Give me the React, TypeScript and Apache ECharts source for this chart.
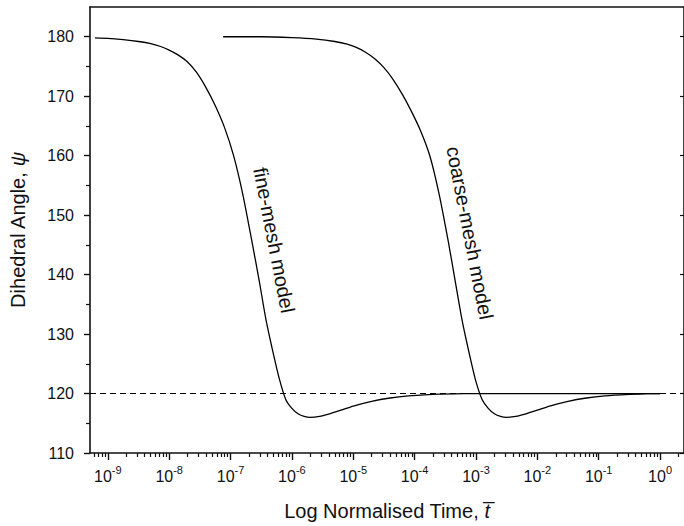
import React, { useEffect, useRef } from "react";
import * as echarts from "echarts";

// log10 of normalised time and dihedral angle (degrees)
const fineLogT = [-9.21, -9.0, -8.75, -8.5, -8.3, -8.15, -8.0, -7.85, -7.7, -7.55, -7.4, -7.25, -7.1, -6.95, -6.8, -6.65, -6.535, -6.42, -6.3, -6.2, -6.1, -6.0, -5.9, -5.8, -5.7, -5.55, -5.4, -5.2, -5.0, -4.7, -4.4, -4.1, -3.7, -3.2, -2.5, -1.5, 0];
const fineAngle = [179.8, 179.72, 179.5, 179.2, 178.85, 178.4, 177.75, 176.9, 175.75, 173.95, 171.45, 168.45, 164.8, 160.0, 153.5, 145.5, 139.1, 132.3, 126.6, 122.3, 119.0, 117.5, 116.6, 116.15, 116.0, 116.15, 116.55, 117.2, 117.9, 118.7, 119.25, 119.6, 119.85, 119.97, 120, 120, 120];

const coarseLogT = [-7.12, -6.5, -6.0, -5.6, -5.3, -5.1, -4.95, -4.8, -4.65, -4.5, -4.35, -4.2, -4.05, -3.9, -3.75, -3.6, -3.45, -3.34, -3.22, -3.1, -3.0, -2.9, -2.8, -2.7, -2.6, -2.5, -2.35, -2.2, -2.0, -1.8, -1.5, -1.2, -0.9, -0.5, -0.2, 0];
const coarseAngle = [180.0, 180.0, 179.85, 179.6, 179.2, 178.75, 178.2, 177.4, 176.3, 174.8, 172.8, 170.3, 167.4, 164.1, 159.9, 153.5, 145.5, 139.0, 132.0, 126.3, 122.0, 119.0, 117.5, 116.6, 116.15, 116.0, 116.15, 116.55, 117.2, 117.9, 118.7, 119.25, 119.6, 119.85, 119.97, 120];

const equilibriumAngle = 120;
const decadeExponents = [-9, -8, -7, -6, -5, -4, -3, -2, -1, 0];
const minorMantissas = [2, 3, 4, 5, 6, 7, 8, 9];
const yLabelTicks = [110, 120, 130, 140, 150, 160, 170, 180];
const yMinorTicks = [115, 125, 135, 145, 155, 165, 175];

const xMinLog = -9.29;
const xMaxLog = 0.39;
const yMin = 110;
const yMax = 185;

const FONT = "Liberation Sans, Arial, sans-serif";

export default function App() {
  const ref = useRef<HTMLDivElement>(null);
  useEffect(() => {
    if (!ref.current) return;
    const chart = echarts.init(ref.current, undefined, { renderer: "svg" });

    const xMinorTicks: number[] = [];
    for (let n = -10; n <= 0; n++) {
      for (const m of minorMantissas) {
        const v = Math.log10(m) + n;
        if (v > xMinLog && v < xMaxLog) xMinorTicks.push(v);
      }
    }

    const axisLine = { show: true, onZero: false, lineStyle: { color: "#111", width: 1.6 } };
    const noLine = { show: false, onZero: false };
    const grid = { left: 90, top: 7, width: 597, height: 446 };
    const tickColor = "#111";

    chart.setOption({
      animation: false,
      backgroundColor: "#fff",
      grid,
      xAxis: [
        {
          type: "value",
          position: "bottom",
          min: xMinLog,
          max: xMaxLog,
          axisLine,
          splitLine: { show: false },
          axisTick: { show: true, customValues: decadeExponents, length: 7, inside: false, lineStyle: { color: tickColor, width: 1.4 } },
          axisLabel: {
            customValues: decadeExponents,
            margin: 11,
            formatter: (v: number) => `{b|10}{s|${Math.round(v)}}`,
            rich: {
              b: { fontSize: 16, fontFamily: FONT, color: "#111", lineHeight: 20, verticalAlign: "bottom" },
              s: { fontSize: 11, fontFamily: FONT, color: "#111", lineHeight: 11, verticalAlign: "top" },
            },
          },
          name: "{a|Log Normalised Time, }{b|t\u0305}",
          nameLocation: "middle",
          nameGap: 48,
          nameTextStyle: {
            rich: {
              a: { fontSize: 20, fontFamily: FONT, color: "#111" },
              b: { fontSize: 20, fontFamily: FONT, color: "#111", fontStyle: "italic" },
            },
          },
        },
        {
          type: "value",
          position: "bottom",
          min: xMinLog,
          max: xMaxLog,
          axisLine: noLine,
          splitLine: { show: false },
          axisLabel: { show: false },
          axisTick: { show: true, customValues: xMinorTicks, length: 4, inside: false, lineStyle: { color: tickColor, width: 1.2 } },
        },
        {
          type: "value",
          position: "top",
          min: xMinLog,
          max: xMaxLog,
          axisLine,
          splitLine: { show: false },
          axisLabel: { show: false },
          axisTick: { show: false },
        },
      ],
      yAxis: [
        {
          type: "value",
          position: "left",
          min: yMin,
          max: yMax,
          axisLine,
          splitLine: { show: false },
          axisTick: { show: true, customValues: yLabelTicks, length: 6, inside: false, lineStyle: { color: tickColor, width: 1.4 } },
          axisLabel: { customValues: yLabelTicks, margin: 16, fontSize: 16, fontFamily: FONT, color: "#111" },
          name: "{a|Dihedral Angle, }{b|ψ}",
          nameLocation: "middle",
          nameGap: 62,
          nameRotate: 90,
          nameTextStyle: {
            rich: {
              a: { fontSize: 20, fontFamily: FONT, color: "#111" },
              b: { fontSize: 20, fontFamily: FONT, color: "#111", fontStyle: "italic" },
            },
          },
        },
        {
          type: "value",
          position: "left",
          min: yMin,
          max: yMax,
          axisLine: noLine,
          splitLine: { show: false },
          axisLabel: { show: false },
          axisTick: { show: true, customValues: yMinorTicks, length: 4, inside: false, lineStyle: { color: tickColor, width: 1.2 } },
        },
        {
          type: "value",
          position: "right",
          min: yMin,
          max: yMax,
          axisLine,
          splitLine: { show: false },
          axisLabel: { show: false },
          axisTick: { show: true, customValues: yLabelTicks, length: 4, inside: true, lineStyle: { color: tickColor, width: 1.2 } },
        },
      ],
      series: [
        {
          type: "line",
          name: "fine-mesh model",
          xAxisIndex: 0,
          yAxisIndex: 0,
          data: fineLogT.map((x, i) => [x, fineAngle[i]]),
          showSymbol: false,
          smooth: 0.25,
          lineStyle: { color: "#000", width: 1.3 },
          markLine: {
            silent: true,
            symbol: "none",
            label: { show: false },
            lineStyle: { color: "#000", width: 1, type: [6, 4] },
            data: [{ yAxis: equilibriumAngle }],
          },
        },
        {
          type: "line",
          name: "coarse-mesh model",
          xAxisIndex: 0,
          yAxisIndex: 0,
          data: coarseLogT.map((x, i) => [x, coarseAngle[i]]),
          showSymbol: false,
          smooth: 0.25,
          lineStyle: { color: "#000", width: 1.3 },
        },
      ],
    });

    const finePos = chart.convertToPixel({ xAxisIndex: 0, yAxisIndex: 0 }, [-6.29, 145.8]) as number[];
    const coarsePos = chart.convertToPixel({ xAxisIndex: 0, yAxisIndex: 0 }, [-3.1, 147.0]) as number[];
    const rot = (-79 * Math.PI) / 180;
    chart.setOption({
      graphic: [
        {
          type: "text",
          x: finePos[0],
          y: finePos[1],
          rotation: rot,
          style: { text: "fine-mesh model", fontSize: 20, fontFamily: FONT, fill: "#111", align: "center", verticalAlign: "middle" },
        },
        {
          type: "text",
          x: coarsePos[0],
          y: coarsePos[1],
          rotation: rot,
          style: { text: "coarse-mesh model", fontSize: 20, fontFamily: FONT, fill: "#111", align: "center", verticalAlign: "middle" },
        },
      ],
    });

    return () => chart.dispose();
  }, []);
  return <div ref={ref} style={{ position: "fixed", left: 0, top: 0, width: 684, height: 526 }} />;
}
